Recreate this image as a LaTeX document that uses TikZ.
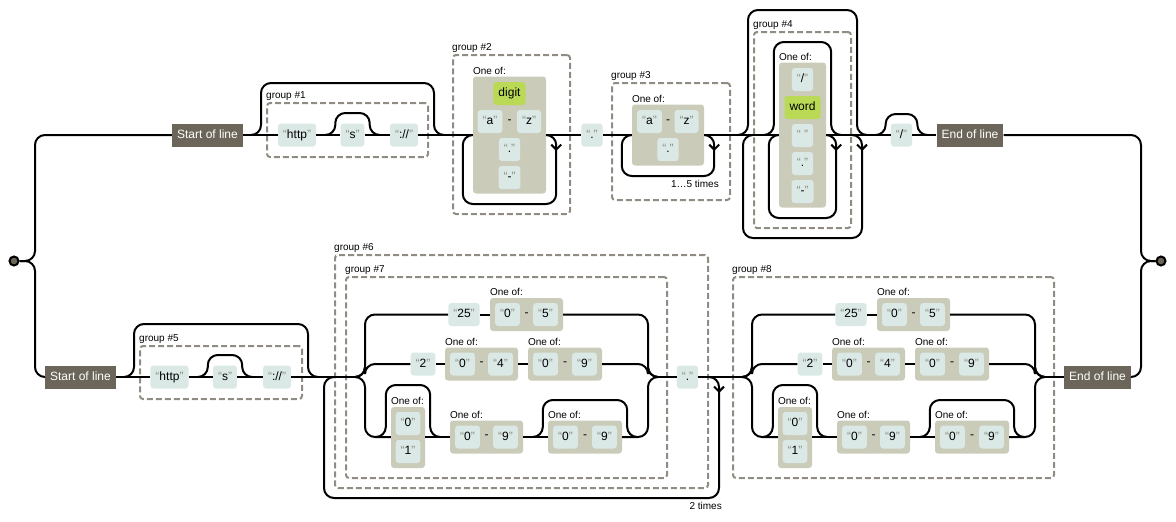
\documentclass[tikz,border=0pt]{standalone}
\usepackage{fontspec}
\setmainfont{Liberation Sans}
\usetikzlibrary{arrows.meta,calc}

\definecolor{anchorc}{HTML}{6B6659}
\definecolor{litc}{HTML}{DAE9E5}
\definecolor{classc}{HTML}{BADA55}
\definecolor{setc}{HTML}{CBCBBA}
\definecolor{groupc}{HTML}{908C83}

\newcommand{\railfont}{\fontsize{12pt}{14pt}\selectfont}
\newcommand{\notefont}{\fontsize{10pt}{12pt}\selectfont}
\newcommand{\lit}[1]{{\color{groupc}“}#1{\color{groupc}”}}

% skip over a node: node, node on the line, rise
\newcommand{\railskip}[3]{%
  \draw[rail] (#1.west |- #2) ++(-15,0) -- ++(10,0) -- ++(0,-#3)
    -| ($(#1.east |- #2)+(5,0)$) -- ++(10,0);}
% loop back under a node: node, node on the line, drop
\newcommand{\railloop}[3]{%
  \draw[rail] (#1.east |- #2) -| ++(10,#3) -| ($(#1.west |- #2)+(-10,0)$) -- (#1.west |- #2);
  \draw[rail,-{Straight Barb[length=5pt,width=10pt]}] ($(#1.east |- #2)+(10,10)$) -- ++(0,6);}

\begin{document}
\begin{tikzpicture}[x=1pt,y=-1pt]
\railfont
  \tikzstyle{rail}=[line width=2pt,rounded corners=10pt]
  \tikzstyle{anchorbox}=[fill=anchorc,text=white,inner xsep=5pt,inner ysep=5.5pt,text height=9pt,text depth=3pt]
  \tikzstyle{litbox}=[fill=litc,rounded corners=3pt,inner xsep=5pt,inner ysep=5.5pt,text height=9pt,text depth=3pt]
  \tikzstyle{classbox}=[fill=classc,rounded corners=3pt,inner xsep=5pt,inner ysep=5.5pt,text height=9pt,text depth=3pt]
  \tikzstyle{grouplbl}=[font=\notefont,anchor=south west,inner sep=0pt,yshift=1pt]
  \tikzstyle{oneof}=[label={[grouplbl,yshift=1pt]north west:One of:}]
  \tikzstyle{setbox}=[fill=setc,rounded corners=3pt,inner sep=0pt]
  \tikzstyle{groupbox}=[draw=groupc,line width=2pt,dash pattern=on 6pt off 3pt,rounded corners=3pt,inner sep=0pt]
  \tikzstyle{dashtext}=[inner sep=0pt]
  \tikzstyle{notelbl}=[font=\notefont,inner sep=0pt]
  \tikzstyle{dotnode}=[circle,fill=anchorc,draw=black,line width=2pt,minimum size=9pt,inner sep=0pt]

  \useasboundingbox (0,0) rectangle (1176,522);

  \node[dotnode] (startdot) at (14,261) {};
  \node[dotnode] (enddot) at (1161,261) {};
  \coordinate (ljoin) at (35,261);
  \coordinate (rjoin) at (1141,261);

  \begin{scope}
   % first line
   \node[anchorbox] (startline1) at (207.5,135) {Start of line};

   \node[groupbox,minimum width=161pt,minimum height=54pt,label={[grouplbl]north west:group \#1}] (group1) at (347.5,130) {};
   \node[litbox] (http1) at (297,135) {\lit{http}};
   \node[litbox] (s1) at (352.5,135) {\lit{s}};
   \node[litbox] (colon1) at (404,135) {\lit{://}};

   \node[groupbox,minimum width=117pt,minimum height=159pt,label={[grouplbl]north west:group \#2}] (group2) at (511.5,134.5) {};
   \node[setbox,oneof,minimum width=73pt,minimum height=117pt] (oneof2) at (509.5,135) {};
   \node[classbox] (digit2) at (509.5,93.5) {digit};
   \node[litbox] (a2) at (490,121.5) {\lit{a}};
   \node[dashtext] (to2) at (509.5,121.5) {-};
   \node[litbox] (z2) at (529,121.5) {\lit{z}};
   \node[litbox] (dot2) at (509.5,149.5) {\lit{.}};
   \node[litbox] (minus2) at (509.5,177.5) {\lit{-}};

   \node[litbox] (dotA) at (592,135) {\lit{.}};

   \node[groupbox,minimum width=118pt,minimum height=117pt,label={[grouplbl]north west:group \#3}] (group3) at (671,141.5) {};
   \node[setbox,oneof,minimum width=72pt,minimum height=61pt] (oneof3) at (668,135) {};
   \node[litbox] (a3) at (649.5,121.5) {\lit{a}};
   \node[dashtext] (to3) at (668,121.5) {-};
   \node[litbox] (z3) at (686.5,121.5) {\lit{z}};
   \node[litbox] (dot3) at (668,149.5) {\lit{.}};
   \node[notelbl,anchor=base east] (times3) at (719,187) {1…5 times};

   \node[groupbox,minimum width=97pt,minimum height=196pt,label={[grouplbl]north west:group \#4}] (group4) at (802.5,130) {};
   \node[setbox,oneof,minimum width=47pt,minimum height=145pt] (oneof4) at (802.5,135) {};
   \node[litbox] (slash4) at (802.5,79.5) {\lit{/}};
   \node[classbox] (word4) at (802.5,107.5) {word};
   \node[litbox] (space4) at (802.5,135.5) {\lit{\ }};
   \node[litbox] (dot4) at (802.5,163.5) {\lit{.}};
   \node[litbox] (minus4) at (802.5,191.5) {\lit{-}};

   \node[litbox] (slash1) at (901.5,135) {\lit{/}};
   \node[anchorbox] (endline1) at (970,135) {End of line};

   \draw[rail] (startdot) -- (ljoin) |- (startline1.west);
   \draw[rail] (startline1.east) -- (http1.west);
   \draw[rail] (http1.east) -- (s1.west);
   \draw[rail] (s1.east) -- (colon1.west);
   \draw[rail] (colon1.east) -- (oneof2.west);
   \draw[rail] (oneof2.east) -- (dotA.west);
   \draw[rail] (dotA.east) -- (oneof3.west);
   \draw[rail] (oneof3.east) -- (oneof4.west);
   \draw[rail] (oneof4.east) -- (slash1.west);
   \draw[rail] (slash1.east) -- (endline1.west);
   \draw[rail] (endline1.east) -| (rjoin) -- (enddot);

   \railskip{group1}{startline1}{52}
   \railskip{s1}{http1}{22}
   \railloop{oneof2}{colon1}{69}
   \railloop{oneof3}{dotA}{41}
   \railskip{group4}{endline1}{125}
   \railloop{group4}{endline1}{103}
   \railskip{oneof4}{endline1}{93}
   \railloop{oneof4}{endline1}{83}
   \railskip{slash1}{endline1}{21}

   % second line
   \node[anchorbox] (startline2) at (80.5,377) {Start of line};

   \node[groupbox,minimum width=162pt,minimum height=53pt,label={[grouplbl]north west:group \#5}] (group5) at (221,372.5) {};
   \node[litbox] (http2) at (169.5,377) {\lit{http}};
   \node[litbox] (s2) at (225,377) {\lit{s}};
   \node[litbox] (colon2) at (277,377) {\lit{://}};

   \node[groupbox,minimum width=373pt,minimum height=233pt,label={[grouplbl]north west:group \#6}] (group6) at (521.5,371.5) {};
   \node[litbox] (dotB) at (687.5,377) {\lit{.}};
   \node[notelbl,anchor=base east] (times6) at (722,509) {2 times};

   \node[anchorbox] (endline2) at (1097.5,377) {End of line};

   \foreach \g/\dx/\n in {a/0/7,b/387/8} {
    \node[groupbox,minimum width=321pt,minimum height=201pt,label={[grouplbl]north west:group \#\n}] (group\n) at ({506.5+\dx},377.5) {};
    \coordinate (\g-l) at ({355+\dx},377);
    \coordinate (\g-r) at ({658+\dx},377);

    \node[litbox] (\g-25) at ({464+\dx},314.5) {\lit{25}};
    \node[setbox,oneof,minimum width=73pt,minimum height=33pt] (\g-r1set) at ({526.5+\dx},314.5) {};
    \node[litbox] (\g-r1lo) at ({507.5+\dx},314.5) {\lit{0}};
    \node[dashtext] (\g-r1to) at ({526.5+\dx},314.5) {-};
    \node[litbox] (\g-r1hi) at ({545.5+\dx},314.5) {\lit{5}};

    \node[litbox] (\g-2) at ({423+\dx},364) {\lit{2}};
    \node[setbox,oneof,minimum width=73pt,minimum height=33pt] (\g-r2seta) at ({481.5+\dx},364) {};
    \node[litbox] (\g-r2alo) at ({462.5+\dx},364) {\lit{0}};
    \node[dashtext] (\g-r2ato) at ({481.5+\dx},364) {-};
    \node[litbox] (\g-r2ahi) at ({500.5+\dx},364) {\lit{4}};
    \node[setbox,oneof,minimum width=74pt,minimum height=33pt] (\g-r2setb) at ({565+\dx},364) {};
    \node[litbox] (\g-r2blo) at ({545.5+\dx},364) {\lit{0}};
    \node[dashtext] (\g-r2bto) at ({565+\dx},364) {-};
    \node[litbox] (\g-r2bhi) at ({584.5+\dx},364) {\lit{9}};

    \node[setbox,oneof,minimum width=34pt,minimum height=61pt] (\g-r3seta) at ({408+\dx},437.5) {};
    \node[litbox] (\g-r3azero) at ({408+\dx},423.5) {\lit{0}};
    \node[litbox] (\g-r3aone) at ({408+\dx},451.5) {\lit{1}};
    \node[setbox,oneof,minimum width=73pt,minimum height=33pt] (\g-r3setb) at ({486.5+\dx},437) {};
    \node[litbox] (\g-r3blo) at ({467.5+\dx},437) {\lit{0}};
    \node[dashtext] (\g-r3bto) at ({486.5+\dx},437) {-};
    \node[litbox] (\g-r3bhi) at ({505.5+\dx},437) {\lit{9}};
    \node[setbox,oneof,minimum width=74pt,minimum height=33pt] (\g-r3setc) at ({585+\dx},437) {};
    \node[litbox] (\g-r3clo) at ({565.5+\dx},437) {\lit{0}};
    \node[dashtext] (\g-r3cto) at ({585+\dx},437) {-};
    \node[litbox] (\g-r3chi) at ({604.5+\dx},437) {\lit{9}};

    \draw[rail] (\g-l) -- ++(10,0) |- (\g-25.west);
    \draw[rail] (\g-25.east) -- (\g-r1set.west);
    \draw[rail] (\g-r1set.east) -| ($(\g-r)+(-10,0)$) -- (\g-r);
    \draw[rail] (\g-l) -- ++(10,0) |- (\g-2.west);
    \draw[rail] (\g-2.east) -- (\g-r2seta.west);
    \draw[rail] (\g-r2seta.east) -- (\g-r2setb.west);
    \draw[rail] (\g-r2setb.east) -| ($(\g-r)+(-10,0)$) -- (\g-r);
    \draw[rail] (\g-l) -- ++(10,0) |- (\g-r3seta.west |- \g-r3setb);
    \draw[rail] (\g-r3seta.east |- \g-r3setb) -- (\g-r3setb.west);
    \draw[rail] (\g-r3setb.east) -- (\g-r3setc.west);
    \draw[rail] (\g-r3setc.east) -| ($(\g-r)+(-10,0)$) -- (\g-r);
    \railskip{\g-r3seta}{\g-r3setb}{52}
    \railskip{\g-r3setc}{\g-r3setb}{37}
   }

   \draw[rail] (startdot) -- (ljoin) |- (startline2.west);
   \draw[rail] (startline2.east) -- (http2.west);
   \draw[rail] (http2.east) -- (s2.west);
   \draw[rail] (s2.east) -- (colon2.west);
   \draw[rail] (colon2.east) -- (a-l);
   \draw[rail] (a-r) -- (dotB.west);
   \draw[rail] (dotB.east) -- (b-l);
   \draw[rail] (b-r) -- (endline2.west);
   \draw[rail] (endline2.east) -| (rjoin) -- (enddot);

   \railskip{group5}{startline2}{53}
   \railskip{s2}{http2}{22}
   \railloop{group6}{dotB}{121}
  \end{scope}

\end{tikzpicture}
\end{document}
